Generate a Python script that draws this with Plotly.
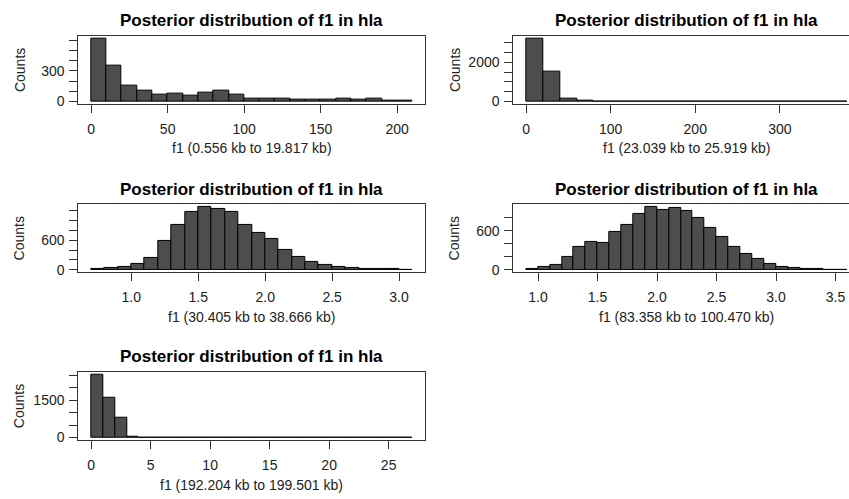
import plotly.graph_objects as go

# ---------------- data ----------------
panel_titles = ["Posterior distribution of f1 in hla"] * 5
x_labels = [
    "f1 (0.556 kb to 19.817 kb)",
    "f1 (23.039 kb to 25.919 kb)",
    "f1 (30.405 kb to 38.666 kb)",
    "f1 (83.358 kb to 100.470 kb)",
    "f1 (192.204 kb to 199.501 kb)",
]

p1_bin_start, p1_bin_width = 0, 10
p1_counts = [620, 346, 158, 107, 68, 78, 61, 90, 104, 68, 26, 32, 32, 16, 22, 22, 26, 16, 29, 7, 3]
p1_xticks = [0, 50, 100, 150, 200]
p1_yticks = [0, 100, 200, 300, 400, 500, 600]
p1_ylabels = ["0", "", "", "300", "", "", ""]

p2_bin_start, p2_bin_width = 0, 20
p2_counts = [3230, 1520, 140, 20, 9, 6, 4, 3, 3, 2, 2, 1, 1, 1, 1, 1, 1, 1, 1]
p2_xticks = [0, 100, 200, 300]
p2_yticks = [0, 500, 1000, 1500, 2000, 2500, 3000]
p2_ylabels = ["0", "", "", "", "2000", "", ""]

p3_bin_start, p3_bin_width = 0.7, 0.1
p3_counts = [12, 30, 50, 110, 248, 595, 920, 1180, 1287, 1247, 1173, 920, 755, 620,
             410, 250, 168, 94, 61, 34, 20, 13, 7, 5]
p3_xticks = [1.0, 1.5, 2.0, 2.5, 3.0]
p3_yticks = [0, 200, 400, 600, 800, 1000, 1200]
p3_ylabels = ["0", "", "", "600", "", "", ""]

p4_bin_start, p4_bin_width = 0.9, 0.1
p4_counts = [5, 36, 77, 200, 344, 421, 416, 590, 687, 867, 975, 923, 954, 903, 805,
             646, 513, 344, 251, 164, 82, 46, 20, 10, 6, 4, 2]
p4_xticks = [1.0, 1.5, 2.0, 2.5, 3.0, 3.5]
p4_yticks = [0, 200, 400, 600, 800]
p4_ylabels = ["0", "", "", "600", ""]

p5_bin_start, p5_bin_width = 0, 1
p5_counts = [2540, 1590, 800, 30, 8, 5, 4, 3, 3, 2, 2, 2, 2, 2, 3, 3, 2, 2, 2, 3,
             2, 2, 1, 1, 1, 1, 1]
p5_xticks = [0, 5, 10, 15, 20, 25]
p5_yticks = [0, 500, 1000, 1500, 2000, 2500]
p5_ylabels = ["0", "", "", "1500", "", ""]

# ---------------- layout geometry (page pixels) ----------------
PAGE_W, PAGE_H = 849, 499
FW, FH = PAGE_W, PAGE_H
BOX_W, BOX_H = 347, 69
COL_X = [78.3, 513.3]
ROW_Y = [36, 206, 375.5]
FONT = "Liberation Sans, Arial, Helvetica, sans-serif"
LINE_C = "#333333"


def px(p):
    return p / FW


def py(p):
    return 1 - p / FH


panels = [
    (p1_bin_start, p1_bin_width, p1_counts, p1_xticks, p1_yticks, p1_ylabels, 0, 0),
    (p2_bin_start, p2_bin_width, p2_counts, p2_xticks, p2_yticks, p2_ylabels, 0, 1),
    (p3_bin_start, p3_bin_width, p3_counts, p3_xticks, p3_yticks, p3_ylabels, 1, 0),
    (p4_bin_start, p4_bin_width, p4_counts, p4_xticks, p4_yticks, p4_ylabels, 1, 1),
    (p5_bin_start, p5_bin_width, p5_counts, p5_xticks, p5_yticks, p5_ylabels, 2, 0),
]

fig = go.Figure()
annotations = []
layout_axes = {}

for i, (start, width, counts, xt, yt, yl, row, col) in enumerate(panels):
    n = i + 1
    xs = "" if n == 1 else str(n)
    centers = [start + width * (k + 0.5) for k in range(len(counts))]
    fig.add_trace(go.Bar(
        x=centers, y=counts, width=[width] * len(counts),
        marker=dict(color="#4d4d4d", line=dict(color="#000000", width=1)),
        xaxis="x" + xs, yaxis="y" + xs, showlegend=False, hoverinfo="x+y",
    ))

    x0 = COL_X[col]
    x1 = min(x0 + BOX_W, PAGE_W)
    frac = (x1 - x0) / BOX_W
    top = ROW_Y[row]
    lo, hi = start, start + width * len(counts)
    pad = 0.04 * (hi - lo)
    full0, full1 = lo - pad, hi + pad
    xr = [full0, full0 + (full1 - full0) * frac]
    ymax = max(counts)

    if width < 1:
        xtext = ["%.1f" % v for v in xt]
    else:
        xtext = [str(v) for v in xt]

    layout_axes["xaxis" + xs] = dict(
        domain=[px(x0), min(px(x1), 1.0)], anchor="y" + xs, range=xr,
        tickvals=xt, ticktext=xtext, ticks="outside", ticklen=8, tickwidth=1,
        tickcolor=LINE_C, showline=True, linecolor=LINE_C, linewidth=1,
        mirror=True, showgrid=False, zeroline=False,
        tickfont=dict(family=FONT, size=14, color="#222222"), ticklabelstandoff=4,
        ticklabeloverflow="allow",
    )
    layout_axes["yaxis" + xs] = dict(
        domain=[py(top + BOX_H), py(top)], anchor="x" + xs,
        range=[-0.04 * ymax, 1.04 * ymax],
        tickvals=yt, ticktext=yl, ticks="outside", ticklen=8, tickwidth=1,
        tickcolor=LINE_C, showline=True, linecolor=LINE_C, linewidth=1,
        mirror=(col == 0), showgrid=False, zeroline=False,
        tickfont=dict(family=FONT, size=14, color="#222222"), ticklabelstandoff=2,
    )

    cx = px(x0 + BOX_W / 2)
    annotations.append(dict(
        text="<b>" + panel_titles[i] + "</b>", x=cx, y=py(top - 15),
        xref="paper", yref="paper", xanchor="center", yanchor="middle",
        showarrow=False, font=dict(family=FONT, size=17, color="#000000"),
    ))
    annotations.append(dict(
        text=x_labels[i], x=cx, y=py(top + BOX_H + 45),
        xref="paper", yref="paper", xanchor="center", yanchor="middle",
        showarrow=False, font=dict(family=FONT, size=14, color="#222222"),
    ))
    annotations.append(dict(
        text="Counts", x=px(x0 - 59), y=py(top + BOX_H / 2),
        xref="paper", yref="paper", xanchor="center", yanchor="middle",
        textangle=-90, showarrow=False,
        font=dict(family=FONT, size=14, color="#222222"),
    ))

fig.update_layout(
    width=FW, height=FH, margin=dict(l=0, r=0, t=0, b=0),
    paper_bgcolor="white", plot_bgcolor="white",
    annotations=annotations, bargap=0, **layout_axes,
)

fig.write_html(
    "out.html",
    config={"displayModeBar": False},
    post_script="document.body.style.margin='0px';document.body.style.overflow='hidden';",
)
